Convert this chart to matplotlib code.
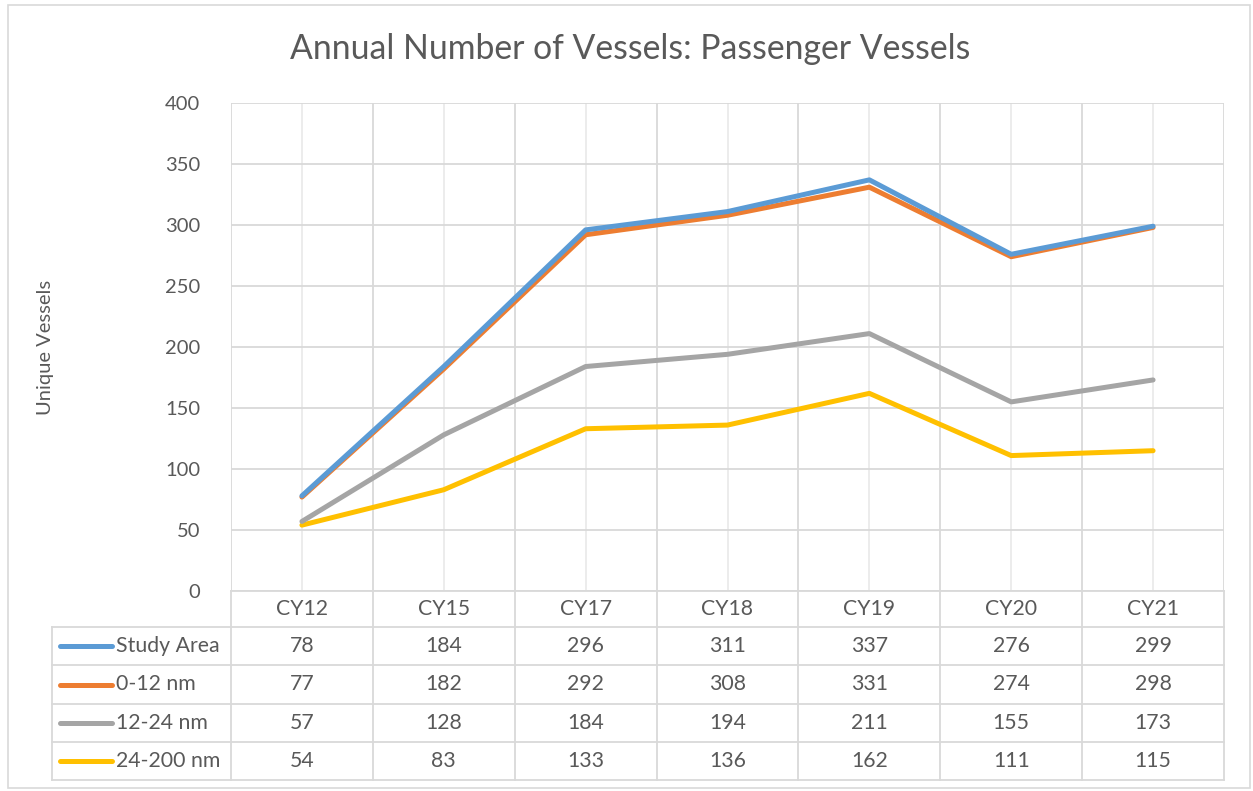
import matplotlib
matplotlib.use("Agg")
import matplotlib.pyplot as plt
from matplotlib.lines import Line2D
from matplotlib.patches import Rectangle
from matplotlib.transforms import blended_transform_factory

categories = ["CY12", "CY15", "CY17", "CY18", "CY19", "CY20", "CY21"]
study_area = [78, 184, 296, 311, 337, 276, 299]
nm_0_12 = [77, 182, 292, 308, 331, 274, 298]
nm_12_24 = [57, 128, 184, 194, 211, 155, 173]
nm_24_200 = [54, 83, 133, 136, 162, 111, 115]
series_names = ["Study Area", "0-12 nm", "12-24 nm", "24-200 nm"]
series_values = [study_area, nm_0_12, nm_12_24, nm_24_200]
colors = ["#5B9BD5", "#ED7D31", "#A5A5A5", "#FFC000"]
y_ticks = [0, 50, 100, 150, 200, 250, 300, 350, 400]

plt.rcParams['font.family'] = ['Lato', 'DejaVu Sans']
TXT = "#595959"
GRID = "#D9D9D9"
FS = 14.5
FT = 15.3

W, H = 1253, 791
fig = plt.figure(figsize=(W / 100, H / 100), dpi=100)

def px(x0, y0, x1, y1):
    return [x0 / W, 1 - y1 / H, (x1 - x0) / W, (y1 - y0) / H]

ax = fig.add_axes(px(231, 103, 1224, 591))
n = len(categories)
x = list(range(n))

for vals, c in zip(series_values[::-1], colors[::-1]):
    ax.plot(x, vals, color=c, lw=3.6, solid_capstyle='round', zorder=3)

ax.set_xlim(-0.5, n - 0.5)
ax.set_ylim(0, 400)
ax.set_yticks(y_ticks)
ax.set_yticklabels([str(v) for v in y_ticks], fontsize=FS, color=TXT)
ax.tick_params(axis='y', length=0, pad=22)
ax.set_xticks([i - 0.5 for i in range(n + 1)])
ax.set_xticks(x, minor=True)
ax.tick_params(axis='x', which='both', length=0, labelbottom=False)
ax.grid(True, axis='y', color=GRID, lw=1.3, zorder=0)
ax.grid(True, axis='x', which='major', color=GRID, lw=1.3, zorder=0)
ax.grid(True, axis='x', which='minor', color="#EBEBEB", lw=1.3, zorder=0)
for s in ax.spines.values():
    s.set_visible(False)
ax.set_ylabel("Unique Vessels", fontsize=FS, color=TXT)
ax.yaxis.set_label_coords(-0.178, 0.5)

fig.text(630 / W, 1 - 49 / H, "Annual Number of Vessels: Passenger Vessels",
         ha='center', va='center', fontsize=24.3, color=TXT)

# data table below the axes
tr = blended_transform_factory(ax.transData, fig.transFigure)
def fy(p):
    return 1 - p / H

row_edges = [591, 627, 665, 704, 742, 780]
cw = (1224 - 231) / n
label_left = -0.5 - (231 - 52) / cw
right = n - 0.5

fig.add_artist(Line2D([-0.5, right], [fy(591), fy(591)], transform=tr, color=GRID, lw=1.3))
for ye in row_edges[1:]:
    fig.add_artist(Line2D([label_left, right], [fy(ye), fy(ye)], transform=tr, color=GRID, lw=1.3))
fig.add_artist(Line2D([label_left, label_left], [fy(627), fy(780)], transform=tr, color=GRID, lw=1.3))
for i in range(n + 1):
    fig.add_artist(Line2D([i - 0.5, i - 0.5], [fy(591), fy(780)], transform=tr, color=GRID, lw=1.3))

for i, cat in enumerate(categories):
    fig.text(i, fy((591 + 627) / 2), cat, transform=tr, ha='center', va='center',
             fontsize=FT, color=TXT)
for r, (name, vals, c) in enumerate(zip(series_names, series_values, colors)):
    yc = fy((row_edges[r + 1] + row_edges[r + 2]) / 2)
    lx0 = label_left + (60 - 52) / cw
    lx1 = label_left + (112 - 52) / cw
    fig.add_artist(Line2D([lx0, lx1], [yc, yc], transform=tr, color=c, lw=3.6,
                          solid_capstyle='round'))
    fig.text(label_left + (116 - 52) / cw, yc, name, transform=tr, ha='left',
             va='center', fontsize=FT, color=TXT)
    for i, v in enumerate(vals):
        fig.text(i, yc, str(v), transform=tr, ha='center', va='center',
                 fontsize=FT, color=TXT)

fig.add_artist(Rectangle((8 / W, 1 - 788 / H), (1250 - 8) / W, (788 - 5) / H,
                         transform=fig.transFigure, fill=False, edgecolor=GRID, lw=1.2))

fig.savefig("out.png", dpi=100)
